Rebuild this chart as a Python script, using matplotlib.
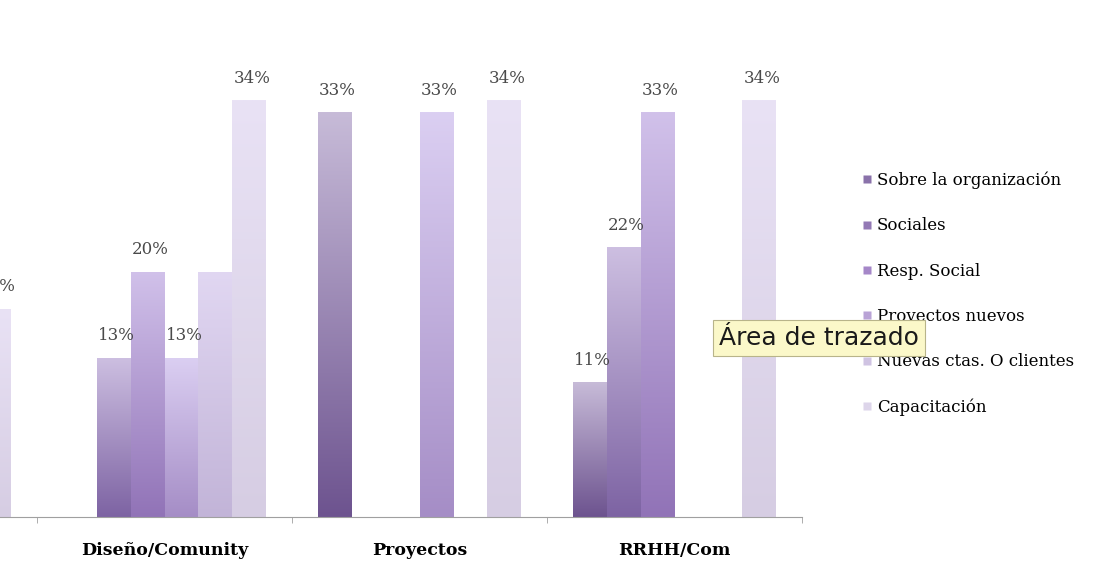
import numpy as np
import matplotlib
matplotlib.use("Agg")
import matplotlib.pyplot as plt
from matplotlib.colors import LinearSegmentedColormap
from matplotlib.lines import Line2D

# areas (the first one sits partly off the left edge)
categories = ["", "Diseño/Comunity", "Proyectos", "RRHH/Com"]
series = ["Sobre la organización", "Sociales", "Resp. Social",
          "Proyectos nuevos", "Nuevas ctas. O clientes", "Capacitación"]

sobre_org = [np.nan, 0, 33, 11]
sociales = [np.nan, 13, 0, 22]
resp_social = [np.nan, 20, 0, 33]
proyectos_nuevos = [np.nan, 13, 33, 0]
nuevas_ctas = [np.nan, 20, 0, 0]
capacitacion = [17, 34, 34, 34]
values = [sobre_org, sociales, resp_social, proyectos_nuevos, nuevas_ctas, capacitacion]

# labels that were removed from the original chart
hidden_labels = {(4, 1)}

# gradient per series: bottom colour -> top colour
grad_bottom = ["#6d538f", "#7d63a3", "#9173b7", "#a58dc6", "#c2b4d8", "#d6cde3"]
grad_top = ["#c7bbd8", "#cdbfe1", "#d1c1ea", "#dbcff2", "#e1d7f2", "#e9e2f5"]
legend_cols = ["#8a72aa", "#9379b5", "#a587c8", "#b9a3d6", "#cfc3e2", "#ddd5ea"]

fig = plt.figure(figsize=(11.09, 5.69), dpi=100)
W, H = 1109, 569
ax = fig.add_axes([-218 / W, 52 / H, 1020 / W, 453.7 / H])

bw = 0.1333
x = np.arange(len(categories))
grad = np.linspace(0, 1, 256).reshape(-1, 1)
for i, vals in enumerate(values):
    cmap = LinearSegmentedColormap.from_list(f"g{i}", [grad_bottom[i], grad_top[i]])
    offs = (i - 2.5) * bw
    bars = ax.bar(x + offs, vals, width=bw, color="none", edgecolor="none")
    for j, (b, v) in enumerate(zip(bars, vals)):
        if np.isnan(v) or v == 0:
            continue
        x0 = b.get_x()
        im = ax.imshow(grad, extent=(x0, x0 + bw, 0, v), origin="lower",
                       cmap=cmap, aspect="auto", zorder=2)
        im.set_clip_path(b)
        if (i, j) not in hidden_labels:
            ax.text(x0 + bw / 2 + 0.01, v + 1.1, f"{v:g}%", ha="center", va="bottom",
                    fontsize=12, family="DejaVu Serif", color="#4a4a4a")

ax.set_xlim(-0.5, len(categories) - 0.5)
ax.set_ylim(0, 37)
ax.set_yticks([])
ax.set_xticks(np.arange(len(categories) + 1) - 0.5, minor=True)
ax.set_xticks(x)
ax.set_xticklabels(categories, fontsize=12.5, fontweight="bold", family="DejaVu Serif")
ax.tick_params(axis="x", which="major", length=0, pad=18)
ax.tick_params(axis="x", which="minor", length=4, color="#a0a0a0")
for s in ["top", "right", "left"]:
    ax.spines[s].set_visible(False)
ax.spines["bottom"].set_color("#a0a0a0")
ax.patch.set_alpha(0)

handles = [Line2D([], [], marker="s", linestyle="none", markersize=5.5,
                  markerfacecolor=c, markeredgecolor="none") for c in legend_cols]
fig.legend(handles, series, loc="upper left", bbox_to_anchor=(855 / W, 1 - 165 / H),
           frameon=False, prop={"family": "DejaVu Serif", "size": 12},
           handlelength=0.6, handletextpad=0.3, labelspacing=1.7, borderaxespad=0)

# tooltip over the plot area
fig.text(719 / W, 1 - 338 / H, "Área de trazado", fontsize=18, family="DejaVu Sans",
         va="center", ha="left", color="#1a1a1a", zorder=10,
         bbox=dict(boxstyle="square,pad=0.25", facecolor="#fbf8c9", edgecolor="#b8b48a", lw=0.8))

fig.savefig("out.png", dpi=100)
